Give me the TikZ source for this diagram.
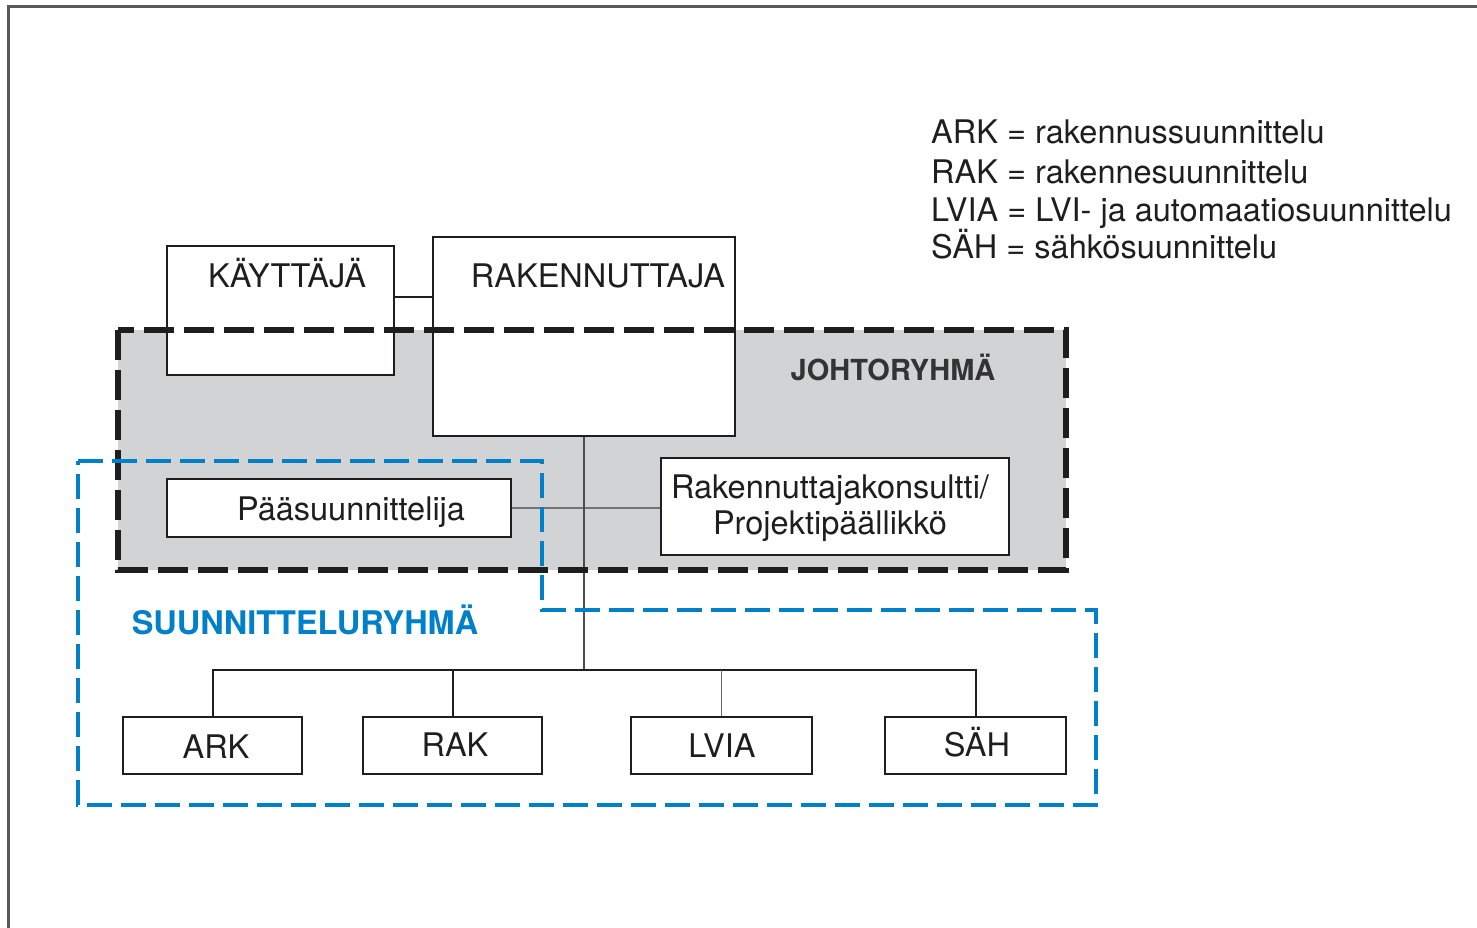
\documentclass[tikz,border=0pt]{standalone}
\usepackage{fontspec}
\setmainfont{TeX Gyre Heros}
\definecolor{grayfill}{RGB}{209,211,212}
\definecolor{bluedash}{RGB}{0,128,200}
\definecolor{ink}{RGB}{30,30,30}
\begin{document}
\begin{tikzpicture}[x=1pt,y=-1pt,
  box/.style={draw=ink, line width=2pt, fill=white, inner sep=0pt},
  txt/.style={font=\fontsize{32.5}{36}\selectfont, text=ink, inner sep=0pt, anchor=base},
  lgd/.style={font=\fontsize{32.5}{36}\selectfont, text=ink, inner sep=0pt, anchor=base west},
  conn/.style={draw=ink, line width=2pt},
  gconn/.style={draw=black!55, line width=2.5pt},
  johto/.style={draw=ink, line width=5.5pt, dash pattern=on 30pt off 10pt, line join=miter},
  suunn/.style={draw=bluedash, line width=4pt, dash pattern=on 25pt off 9pt, line join=miter}]
\useasboundingbox (0,0) rectangle (1477,928);
% frame
\draw[black!65, line width=3pt] (8,928) -- (8,7) -- (1477,7);
% JOHTORYHMA fill
\fill[grayfill] (118,330) rectangle (1066,570);
% boxes
\node[box, minimum width=227pt, minimum height=129pt] (kay) at (280.5,310.5) {};
\node[box, minimum width=302pt, minimum height=199pt] (rak) at (584,336.5) {};
\node[box, minimum width=344pt, minimum height=58pt] (paa) at (339,508) {};
\node[box, minimum width=348pt, minimum height=97pt] (kon) at (835,506.5) {};
\node[box, minimum width=179pt, minimum height=57pt] (ark) at (212.5,745.5) {};
\node[box, minimum width=179pt, minimum height=57pt] (rakd) at (452.5,745.5) {};
\node[box, minimum width=181pt, minimum height=57pt] (lvia) at (721.5,745.5) {};
\node[box, minimum width=181pt, minimum height=57pt] (sah) at (975.5,745.5) {};
\coordinate (bus) at (584,670);
% connectors
\draw[conn, line width=1.6pt] (kay.east |- 0,297) -- (rak.west |- 0,297);
\draw[gconn] (paa.east) -- (paa.east -| kon.west);
\draw[draw=black!70, line width=2pt] (rak.south) -- (bus);
\draw[conn] (ark.north) |- (bus) -| (sah.north);
\draw[conn] (rakd.north) -- (rakd.north |- bus);
\draw[draw=black!60, line width=1.6pt] (lvia.north) -- (lvia.north |- bus);
% group outlines
\draw[johto] (118,330) rectangle (1066,570);
\draw[suunn] (78,461) -- (542,461) -- (542,610) -- (1096,610) -- (1096,805) -- (78,805) -- cycle;
% texts
\node[txt] (tkay) at (287,287) {KÄYTTÄJÄ};
\node[txt] (trak) at (598,287) {RAKENNUTTAJA};
\node[txt, font=\fontsize{29}{34}\selectfont\bfseries, text=black!80] (tjohto) at (893,380.5) {JOHTORYHMÄ};
\node[txt] (tpaa) at (351,520) {Pääsuunnittelija};
\node[txt, align=center, font=\fontsize{32.5}{36}\selectfont, anchor=center] (tkon) at (830,508) {Rakennuttajakonsultti/\\Projektipäällikkö};
\node[txt, font=\fontsize{32.5}{36}\selectfont\bfseries, text=bluedash] (tsuun) at (305,634) {SUUNNITTELURYHMÄ};
\node[txt] (tark) at (216,758) {ARK};
\node[txt] (trakd) at (455,756) {RAK};
\node[txt] (tlvia) at (722,757) {LVIA};
\node[txt] (tsah) at (977,756) {SÄH};
% legend
\node[lgd] (l1) at (931,143.5) {ARK = rakennussuunnittelu};
\node[lgd] (l2) at (931,183.5) {RAK = rakennesuunnittelu};
\node[lgd] (l3) at (931,221.5) {LVIA = LVI- ja automaatiosuunnittelu};
\node[lgd] (l4) at (931,258.5) {SÄH = sähkösuunnittelu};
\end{tikzpicture}
\end{document}
